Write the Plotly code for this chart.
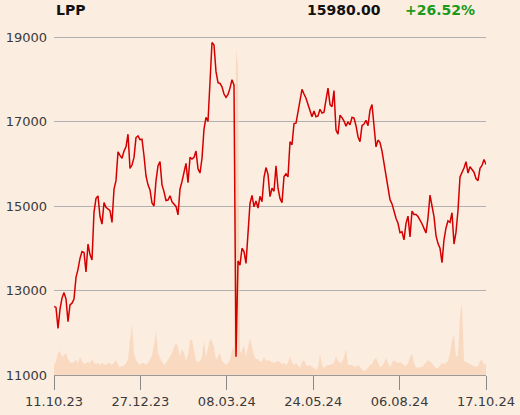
import plotly.graph_objects as go

# Tick labels (dates) for the session axis
date_labels = ["11.10.23", "27.12.23", "08.03.24", "24.05.24", "06.08.24", "17.10.24"]

# Closing prices (PLN)
price = [
    12620, 12600, 12100, 12560, 12820, 12950, 12800, 12260, 12660, 12700,
    12800, 13310, 13500, 13760, 13920, 13900, 13440, 14100, 13850, 13720,
    14850, 15180, 15240, 14750, 14570, 15080, 14970, 14930, 14890, 14610,
    15400, 15600, 16280, 16200, 16130, 16300, 16400, 16700, 15890, 15970,
    16150, 16620, 16660, 16570, 16580, 16190, 15710, 15500, 15380, 15070,
    15000, 15600, 15950, 16050, 15500, 15340, 15130, 15140, 15240, 15100,
    15050, 14990, 14790, 15400, 15580, 15800, 16010, 15550, 16150, 16110,
    16150, 16300, 15880, 15780, 16130, 16820, 17100, 17000, 18140, 18870,
    18810, 18180, 17920, 17900, 17820, 17650, 17570, 17640, 17790, 17990,
    17860, 11430, 13700, 13600, 14000, 13920, 13640, 14400, 15060, 15250,
    14980, 15120, 14950, 15230, 15100, 15680, 15910, 15750, 15220, 15420,
    15350, 15950, 15420, 15180, 15080, 15700, 15760, 15690, 16520, 16450,
    16950, 16960, 17210, 17430, 17760, 17650, 17550, 17400, 17270, 17110,
    17250, 17110, 17130, 17290, 17200, 17220, 17510, 17790, 17400, 17350,
    17730, 16800, 16700, 17150, 17090, 17010, 16890, 16990, 16920, 17100,
    17080, 16900, 16640, 16520, 16900, 16940, 17030, 16900, 17270, 17400,
    16900, 16400, 16560, 16500, 16300, 16030, 15770, 15500, 15150, 15050,
    14870, 14710, 14590, 14370, 14390, 14200, 14590, 14760, 14270, 14880,
    14800, 14800, 14750, 14680, 14580, 14470, 14360, 14720, 15260, 15000,
    14750, 14300, 14110, 14000, 13660, 14200, 14480, 14650, 14610, 14840,
    14100, 14380, 14900, 15690, 15790, 15900, 16050, 15780, 15930, 15870,
    15800, 15650, 15600, 15890, 15960, 16100, 15980,
]

# Traded volume (shares)
volume = [
    1000, 1400, 2200, 2400, 1800, 2000, 2200, 1600, 1300, 1200,
    1400, 1500, 1200, 1800, 1400, 1100, 1200, 1300, 1200, 1600,
    1200, 1100, 1200, 1000, 1200, 1100, 1000, 1200, 1200, 1000,
    1300, 1500, 1000, 800, 900, 900, 1200, 1500, 3500, 5000,
    2200, 1500, 1200, 1000, 1200, 1200, 1000, 1200, 1500, 2000,
    3000, 4400, 2200, 1700, 1400, 1000, 1200, 1500, 1800, 2200,
    2800, 3200, 2800, 1800, 2600, 2200, 1500, 2000, 3500, 3500,
    2500, 1400, 1300, 1400, 1800, 3400, 1800, 2600, 3600, 3400,
    2800, 1500, 1800, 2200, 1400, 1200, 1000, 1200, 1500, 2500,
    2800, 32500, 31000, 2200, 2400, 3000, 1800, 2800, 3700, 2800,
    2000, 1600, 1600, 1300, 1400, 1800, 1400, 1500, 1400, 1300,
    1200, 1300, 1400, 1300, 1100, 1200, 1000, 1200, 1900, 1300,
    1000, 1200, 900, 700, 1300, 1500, 1000, 900, 1000, 800,
    700, 500, 800, 2100, 1000, 700, 900, 1000, 1000, 1100,
    1200, 1900, 1400, 1200, 1300, 1800, 2600, 1000, 1000, 1000,
    900, 800, 1000, 800, 600, 400, 500, 800, 1000, 1100,
    1500, 1700, 1300, 800, 900, 1200, 1700, 1200, 800, 1200,
    1500, 1300, 1200, 1300, 1100, 1000, 900, 1200, 1800, 2100,
    1200, 800, 700, 800, 800, 1000, 1200, 1500, 1300, 1200,
    900, 700, 700, 900, 1200, 1100, 1200, 1400, 2200, 3500,
    4000, 1800, 2000, 6000, 7200, 1400, 1300, 1200, 1100, 1000,
    900, 800, 900, 1400, 1500, 1000, 1200,
]

header_name = "LPP"
header_last = "15980.00"
header_change = "+26.52%"

n = len(price)
sessions = list(range(n))
tick_pos = [i * (n - 1) / (len(date_labels) - 1) for i in range(len(date_labels))]

BG = "#FCEDE1"
fig = go.Figure()

fig.add_trace(go.Scatter(
    x=sessions, y=volume, mode="lines", line=dict(width=0),
    fill="tozeroy", fillcolor="rgba(246,205,172,0.6)",
    yaxis="y", hoverinfo="skip", showlegend=False,
))
fig.add_trace(go.Scatter(
    x=sessions, y=price, mode="lines",
    line=dict(color="#D40000", width=1.5),
    yaxis="y2", showlegend=False,
))

font_family = "DejaVu Sans"
fig.update_layout(
    width=520, height=415,
    margin=dict(l=54, r=34, t=25, b=40, autoexpand=False),
    paper_bgcolor=BG, plot_bgcolor=BG,
    font=dict(family=font_family, size=13, color="#3a3a3a"),
    xaxis=dict(
        range=[0, n - 1], tickmode="array", tickvals=tick_pos, ticktext=date_labels,
        showgrid=False, zeroline=False, automargin=False,
        showline=True, linecolor="#9a9a9a", linewidth=1,
        ticks="outside", ticklen=14, tickcolor="#8a8a8a", tickwidth=1,
        tickfont=dict(size=13, color="#3a3a3a"),
    ),
    yaxis=dict(
        range=[0, 35000], visible=False, fixedrange=True, automargin=False,
    ),
    yaxis2=dict(
        overlaying="y", side="left", automargin=False,
        range=[11000, 19284], tickmode="array",
        tickvals=[11000, 13000, 15000, 17000, 19000],
        ticktext=["11000", "13000", "15000", "17000", "19000"],
        showgrid=True, gridcolor="#b0b0b0", gridwidth=1,
        zeroline=False, showline=False, ticks="",
        tickfont=dict(size=13, color="#3a3a3a"),
        ticklabelstandoff=6,
    ),
    annotations=[
        dict(text="<b>%s</b>" % header_name, xref="paper", yref="paper",
             x=0.0, y=1.043, xanchor="left", yanchor="middle", showarrow=False,
             font=dict(size=14, color="#111111", family=font_family)),
        dict(text="<b>%s</b>" % header_last, xref="paper", yref="paper",
             x=0.762, y=1.043, xanchor="right", yanchor="middle", showarrow=False,
             font=dict(size=14, color="#111111", family=font_family)),
        dict(text="<b>%s</b>" % header_change, xref="paper", yref="paper",
             x=0.980, y=1.043, xanchor="right", yanchor="middle", showarrow=False,
             font=dict(size=14, color="#1a9a1a", family=font_family)),
    ],
)

page_js = (
    "document.body.style.margin='0';"
    "document.body.style.background='" + BG + "';"
    "document.body.style.overflow='hidden';"
)
fig.write_html("out.html", post_script=page_js, config={"displayModeBar": False})
